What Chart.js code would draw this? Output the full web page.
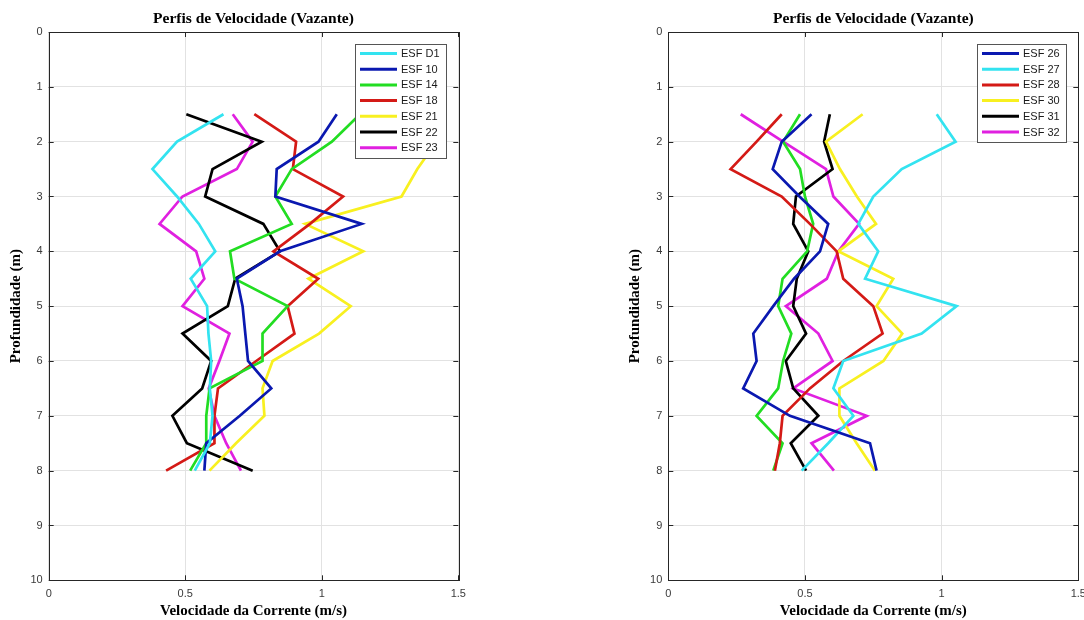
<!DOCTYPE html>
<html>
<head>
<meta charset="utf-8">
<title>Perfis de Velocidade (Vazante)</title>
<script src="https://cdn.jsdelivr.net/npm/chart.js@4.4.0/dist/chart.umd.min.js"></script>
<style>
  html, body { margin: 0; padding: 0; background: #fff; overflow: hidden; width: 1084px; height: 620px; }
  canvas { position: absolute; top: 0; }
  #leftChart { left: 0; }
  #rightChart { left: 542px; }
</style>
</head>
<body>
<canvas id="leftChart" width="560" height="620"></canvas>
<canvas id="rightChart" width="560" height="620"></canvas>
<script>
// Profundidades de medição (m), iguais para todas as estações
const depths = [1.5, 2, 2.5, 3, 3.5, 4, 4.5, 5, 5.5, 6, 6.5, 7, 7.5, 8];

// Eixos
const xTicks = [0, 0.5, 1, 1.5];
const yTicks = [0, 1, 2, 3, 4, 5, 6, 7, 8, 9, 10];

// Gráfico da esquerda - velocidades (m/s)
const leftLabels = ['ESF D1', 'ESF 10', 'ESF 14', 'ESF 18', 'ESF 21', 'ESF 22', 'ESF 23'];
const esfD1 = [0.64, 0.47, 0.38, 0.47, 0.55, 0.61, 0.52, 0.58, 0.585, 0.595, 0.59, 0.6, 0.59, 0.535];
const esf10 = [1.055, 0.988, 0.835, 0.83, 1.146, 0.847, 0.689, 0.71, 0.72, 0.73, 0.815, 0.7, 0.577, 0.57];
const esf14 = [1.14, 1.037, 0.89, 0.83, 0.89, 0.664, 0.68, 0.875, 0.783, 0.783, 0.589, 0.577, 0.577, 0.518];
const esf18 = [0.753, 0.906, 0.894, 1.078, 0.957, 0.823, 0.987, 0.875, 0.9, 0.76, 0.62, 0.607, 0.607, 0.43];
const esf21 = [1.3, 1.42, 1.35, 1.292, 0.939, 1.152, 0.951, 1.106, 0.99, 0.82, 0.783, 0.79, 0.686, 0.589];
const esf22 = [0.504, 0.78, 0.6, 0.573, 0.786, 0.847, 0.683, 0.656, 0.49, 0.595, 0.562, 0.453, 0.506, 0.747];
const esf23 = [0.674, 0.747, 0.689, 0.49, 0.406, 0.54, 0.57, 0.49, 0.662, 0.625, 0.586, 0.607, 0.65, 0.704];

// Gráfico da direita - velocidades (m/s)
const rightLabels = ['ESF 26', 'ESF 27', 'ESF 28', '', 'ESF 30', 'ESF 31', 'ESF 32'];
const esf26 = [0.524, 0.415, 0.382, 0.48, 0.585, 0.555, 0.46, 0.384, 0.311, 0.323, 0.274, 0.445, 0.738, 0.762];
const esf27 = [0.982, 1.051, 0.854, 0.75, 0.695, 0.768, 0.72, 1.055, 0.927, 0.64, 0.604, 0.677, 0.585, 0.488];
const esf28 = [0.415, 0.323, 0.228, 0.415, 0.518, 0.616, 0.64, 0.75, 0.784, 0.64, 0.518, 0.418, 0.408, 0.39];
const esfSemNome = [0.482, 0.42, 0.482, 0.5, 0.53, 0.508, 0.418, 0.402, 0.45, 0.42, 0.402, 0.323, 0.418, 0.384];
const esf30 = [0.711, 0.577, 0.628, 0.69, 0.76, 0.622, 0.823, 0.762, 0.856, 0.787, 0.626, 0.626, 0.689, 0.756];
const esf31 = [0.591, 0.57, 0.601, 0.467, 0.457, 0.512, 0.47, 0.457, 0.504, 0.43, 0.457, 0.549, 0.448, 0.504];
const esf32 = [0.265, 0.42, 0.577, 0.604, 0.698, 0.622, 0.58, 0.43, 0.549, 0.601, 0.457, 0.726, 0.524, 0.606];

// Cores estilo MATLAB
const C = {
    cyan: '#33e3f0',
    blue: '#0a18b0',
    green: '#22dd22',
    red: '#d41a16',
    yellow: '#f8f020',
    black: '#000000',
    magenta: '#e020e0'
};

const SERIF = '"Liberation Serif", "Times New Roman", serif';
const SANS = '"Liberation Sans", Arial, sans-serif';

// Moldura da caixa com marcas para dentro (como no MATLAB)
const matlabBox = {
    id: 'matlabBox',
    beforeDatasetsDraw(chart) {
        const { ctx, chartArea: a, scales } = chart;
        ctx.save();
        ctx.strokeStyle = '#262626';
        ctx.lineWidth = 1;
        ctx.beginPath();
        xTicks.forEach(v => {
            const px = Math.round(scales.x.getPixelForValue(v)) + 0.5;
            ctx.moveTo(px, a.bottom); ctx.lineTo(px, a.bottom - 5);
            ctx.moveTo(px, a.top); ctx.lineTo(px, a.top + 5);
        });
        yTicks.forEach(v => {
            const py = Math.round(scales.y.getPixelForValue(v)) + 0.5;
            ctx.moveTo(a.left, py); ctx.lineTo(a.left + 5, py);
            ctx.moveTo(a.right, py); ctx.lineTo(a.right - 5, py);
        });
        ctx.stroke();
        ctx.strokeRect(Math.round(a.left) + 0.5, Math.round(a.top) + 0.5,
            Math.round(a.right - a.left), Math.round(a.bottom - a.top));
        ctx.restore();
    }
};

// Legenda dentro da área do gráfico, por cima das linhas
const boxLegend = {
    id: 'boxLegend',
    afterDatasetsDraw(chart) {
        const { ctx, chartArea: a } = chart;
        const items = chart.data.datasets.filter(d => d.label);
        ctx.save();
        ctx.font = '11px ' + SANS;
        const textW = Math.max(...items.map(d => ctx.measureText(d.label).width));
        const rowH = 15.7;
        const w = Math.round(46 + textW + 6);
        const h = Math.round(items.length * rowH + 4);
        const x = Math.round(a.right - 12 - w);
        const y = Math.round(a.top + 12);
        ctx.fillStyle = '#fff';
        ctx.fillRect(x, y, w, h);
        ctx.strokeStyle = '#555';
        ctx.lineWidth = 1;
        ctx.strokeRect(x + 0.5, y + 0.5, w, h);
        items.forEach((d, i) => {
            const cy = y + 9.5 + i * rowH;
            ctx.strokeStyle = d.borderColor;
            ctx.lineWidth = 3;
            ctx.beginPath();
            ctx.moveTo(x + 5, cy);
            ctx.lineTo(x + 42, cy);
            ctx.stroke();
            ctx.fillStyle = '#1a1a1a';
            ctx.textBaseline = 'middle';
            ctx.fillText(d.label, x + 46, cy + 0.5);
        });
        ctx.restore();
    }
};

function makeDataset(label, values, color) {
    return {
        label: label,
        data: values.map((v, i) => ({ x: v, y: depths[i] })),
        borderColor: color,
        backgroundColor: color,
        borderWidth: 2.7,
        pointRadius: 0,
        tension: 0,
        fill: false
    };
}

function makeChart(canvasId, datasets, padLeft, padRight) {
    return new Chart(document.getElementById(canvasId), {
        type: 'line',
        data: { datasets: datasets },
        options: {
            responsive: false,
            animation: false,
            layout: { padding: { left: padLeft, right: padRight, top: 0, bottom: 0 } },
            plugins: {
                legend: { display: false },
                tooltip: { enabled: false },
                title: {
                    display: true,
                    fullSize: false,
                    text: 'Perfis de Velocidade (Vazante)',
                    color: '#000',
                    font: { family: SERIF, size: 15.5, weight: 'bold', lineHeight: 1.2 },
                    padding: { top: 10, bottom: 3.4 }
                }
            },
            scales: {
                x: {
                    type: 'linear',
                    min: 0,
                    max: 1.5,
                    afterBuildTicks: s => { s.ticks = xTicks.map(v => ({ value: v })); },
                    afterFit: s => { s.height = 39.7; },
                    grid: { color: '#e2e2e2', drawTicks: false },
                    border: { display: false },
                    ticks: {
                        padding: 7,
                        color: '#3a3a3a',
                        font: { family: SANS, size: 11 },
                        callback: v => String(v)
                    },
                    title: {
                        display: true,
                        text: 'Velocidade da Corrente (m/s)',
                        color: '#000',
                        font: { family: SERIF, size: 15, weight: 'bold', lineHeight: 1.2 },
                        padding: { top: 0, bottom: 0 }
                    }
                },
                y: {
                    type: 'linear',
                    min: 0,
                    max: 10,
                    reverse: true,
                    afterBuildTicks: s => { s.ticks = yTicks.map(v => ({ value: v })); },
                    afterFit: s => { s.width = 48.7; },
                    grid: { color: '#e2e2e2', drawTicks: false },
                    border: { display: false },
                    ticks: {
                        padding: 6,
                        color: '#3a3a3a',
                        font: { family: SANS, size: 11 },
                        callback: v => String(v)
                    },
                    title: {
                        display: true,
                        text: 'Profundidade (m)',
                        color: '#000',
                        font: { family: SERIF, size: 15, weight: 'bold', lineHeight: 1.2 },
                        padding: { top: 7, bottom: 0 }
                    }
                }
            }
        },
        plugins: [matlabBox, boxLegend]
    });
}

const leftColors = [C.cyan, C.blue, C.green, C.red, C.yellow, C.black, C.magenta];
const leftValues = [esfD1, esf10, esf14, esf18, esf21, esf22, esf23];
makeChart('leftChart', leftValues.map((v, i) => makeDataset(leftLabels[i], v, leftColors[i])), 0, 101.7);

const rightColors = [C.blue, C.cyan, C.red, C.green, C.yellow, C.black, C.magenta];
const rightValues = [esf26, esf27, esf28, esfSemNome, esf30, esf31, esf32];
makeChart('rightChart', rightValues.map((v, i) => makeDataset(rightLabels[i], v, rightColors[i])), 77.6, 23.7);
</script>
</body>
</html>
